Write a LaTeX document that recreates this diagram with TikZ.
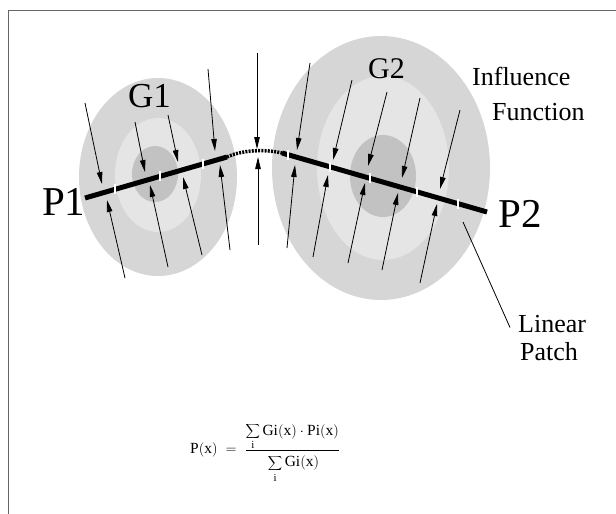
\documentclass[tikz,border=0pt]{standalone}
\usepackage{fontspec}
\setmainfont{Liberation Serif}
\usetikzlibrary{arrows.meta}
\begin{document}
\begin{tikzpicture}[x=1pt, y=-1pt,
    probe/.style={line width=0.8pt, -{Triangle[length=12pt,width=5.5pt]}},
    patch/.style={line width=5pt},
    cut/.style={draw=white, line width=1.2pt},
    lbl/.style={inner sep=0pt, anchor=base west}]
  \useasboundingbox (0,0) rectangle (616,514);
  \draw[black!60, line width=1.3pt] (8.5,514) |- (616,10.5);

  \fill[black!16] (158,177) ellipse [x radius=79pt, y radius=99pt];
  \fill[black!10] (158,175) ellipse [x radius=43pt, y radius=57pt];
  \fill[black!24] (155,174) ellipse [x radius=23pt, y radius=28pt];
  \fill[black!16] (381,168) ellipse [x radius=109pt, y radius=132pt];
  \fill[black!10] (383,168) ellipse [x radius=66pt, y radius=92pt];
  \fill[black!24] (383,176) ellipse [x radius=33pt, y radius=41pt];

  \coordinate (a1) at (85,198);
  \coordinate (a2) at (227,157);
  \coordinate (b1) at (282,153);
  \coordinate (b2) at (487,212);
  \draw[patch] (a1) -- (a2);
  \draw[patch] (b1) -- (b2);
  \draw[line width=3.5pt, dash pattern=on 2pt off 1.2pt] (a2) .. controls (242,150) and (265,149) .. (b1);
  \foreach \x/\y in {115/189.3, 160/176.3, 203/163.9, 288/154.7, 330/166.8, 370/178.3, 417/191.9, 458/203.7}
    \draw[cut] (\x,\y-5) -- (\x,\y+5);

  \foreach \sx/\sy/\tx/\ty in {85/103/102/184, 135/122/145/172, 168/115/178/162, 208/69/215/151,
      125/278/107/200, 168/267/150/185, 202/255/183/177, 230/250/220/165,
      257/53/257/149, 258/245/258/157,
      310/63/297/150, 352/80/333/160, 387/92/368/166, 420/98/402/178, 460/110/440/189,
      287/248/295/165, 313/257/328/175, 348/263/365/183, 382/270/398/193, 420/283/437/204}
    \draw[probe] (\sx,\sy) -- (\tx,\ty);

  \node[lbl, font=\fontsize{41}{41}\selectfont] (p1) at (42,215) {P1};
  \node[lbl, font=\fontsize{41}{41}\selectfont] (p2) at (498,227) {P2};
  \node[lbl, font=\fontsize{35}{35}\selectfont] (g1) at (128,107) {G1};
  \node[lbl, font=\fontsize{30}{30}\selectfont] (g2) at (368,78) {G2};
  \node[lbl, font=\fontsize{26}{26}\selectfont] (infl) at (472,85) {Influence};
  \node[lbl, font=\fontsize{26}{26}\selectfont] (func) at (492,120) {Function};
  \node[lbl, font=\fontsize{26}{26}\selectfont] (lin) at (518,332) {Linear};
  \node[lbl, font=\fontsize{26}{26}\selectfont] (ptch) at (520,360) {Patch};

  \coordinate (tap) at (463,222);
  \draw[line width=0.8pt] (tap) -- ([xshift=-8pt,yshift=-4pt]lin.west);

  \node[inner sep=0pt, anchor=west, font=\fontsize{15.5}{18}\selectfont] (formula) at (190,453)
    {$\mathrm{P(x)}\;=\;\frac{\displaystyle\sum_{\raisebox{-3pt}{$\scriptstyle\mathrm{i}$}}\mathrm{Gi(x)}\cdot\mathrm{Pi(x)}}{\rule{0pt}{16pt}\displaystyle\sum_{\raisebox{-4pt}{$\scriptstyle\mathrm{i}$}}\mathrm{Gi(x)}}$};
\end{tikzpicture}
\end{document}
